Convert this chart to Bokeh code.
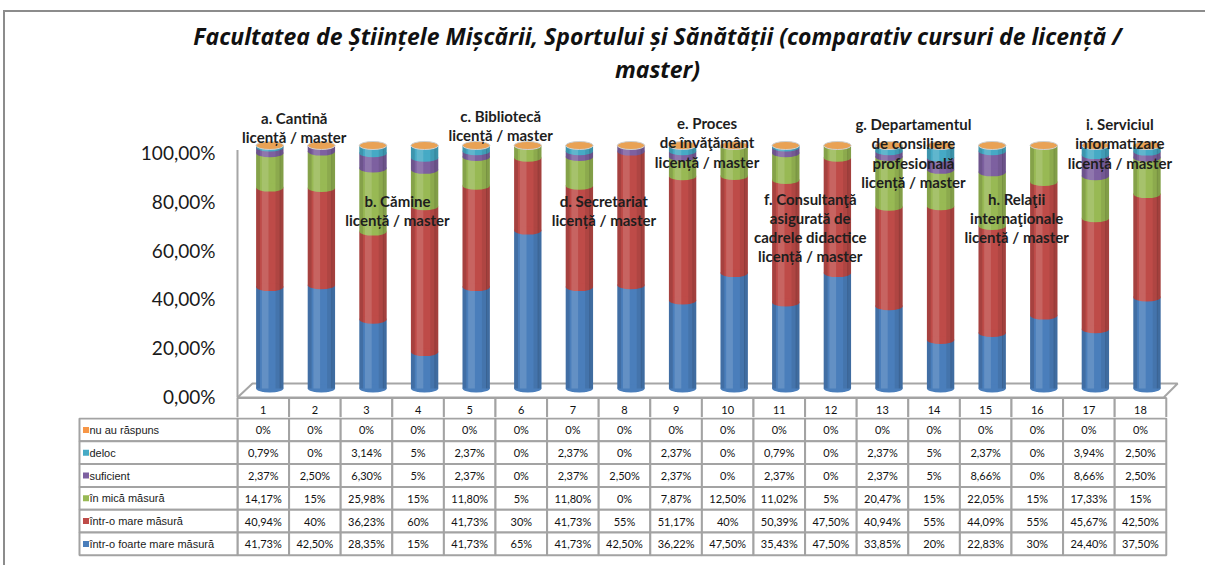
from bokeh.plotting import figure
from bokeh.layouts import column
from bokeh.models import Range1d, ColumnDataSource
from bokeh.core.properties import value
from bokeh.embed import file_html
from bokeh.resources import INLINE

# ---------------- data ----------------
categories = ["1", "2", "3", "4", "5", "6", "7", "8", "9", "10",
              "11", "12", "13", "14", "15", "16", "17", "18"]
series_names = ["într-o foarte mare măsură", "într-o mare măsură", "în mică măsură",
                "suficient", "deloc", "nu au răspuns"]
foarte_mare = [41.73, 42.50, 28.35, 15, 41.73, 65, 41.73, 42.50, 36.22,
               47.50, 35.43, 47.50, 33.85, 20, 22.83, 30, 24.40, 37.50]
mare = [40.94, 40, 36.23, 60, 41.73, 30, 41.73, 55, 51.17,
        40, 50.39, 47.50, 40.94, 55, 44.09, 55, 45.67, 42.50]
mica = [14.17, 15, 25.98, 15, 11.80, 5, 11.80, 0, 7.87,
        12.50, 11.02, 5, 20.47, 15, 22.05, 15, 17.33, 15]
suficient = [2.37, 2.50, 6.30, 5, 2.37, 0, 2.37, 2.50, 2.37,
             0, 2.37, 0, 2.37, 5, 8.66, 0, 8.66, 2.50]
deloc = [0.79, 0, 3.14, 5, 2.37, 0, 2.37, 0, 2.37,
         0, 0.79, 0, 2.37, 5, 2.37, 0, 3.94, 2.50]
nu_au_raspuns = [0, 0, 0, 0, 0, 0, 0, 0, 0, 0, 0, 0, 0, 0, 0, 0, 0, 0]
series_values = [foarte_mare, mare, mica, suficient, deloc, nu_au_raspuns]

tick_values = [0, 20, 40, 60, 80, 100]
tick_labels = ["0,00%", "20,00%", "40,00%", "60,00%", "80,00%", "100,00%"]

group_labels = [
    ["a. Cantină", "licență / master"],
    ["b. Cămine", "licență / master"],
    ["c. Bibliotecă", "licență / master"],
    ["d. Secretariat", "licență / master"],
    ["e. Proces", "de învăţământ", "licență / master"],
    ["f. Consultanţă", "asigurată de", "cadrele didactice", "licență / master"],
    ["g. Departamentul", "de consiliere", "profesională", "licență / master"],
    ["h. Relaţii", "internaţionale", "licență / master"],
    ["i. Serviciul", "informatizare", "licență / master"],
]
title_lines = ["Facultatea de Științele Mișcării, Sportului și Sănătății (comparativ cursuri de licență /",
               "master)"]

# ---------------- styles / layout ----------------
colors = ["#4A7EBB", "#BE4B48", "#98B954", "#7D60A0", "#46AAC5", "#F79646"]
W = 1200
X_RANGE = (-3.996, 19.260)
col_x = list(range(1, len(categories) + 1))
bar_shift = 0.126
bar_w = 0.53
ell_h = 3.3
group_top = [114.3, 80.3, 114.8, 80.3, 111.9, 81.1, 111.5, 81.1, 111.5]
line_step = 7.8
grid_c = "#a3a3a3"


def bare(p):
    p.grid.visible = False
    return p


# ---------------- title figure ----------------
pt = bare(figure(width=W, height=80, x_range=Range1d(5, 1205), y_range=Range1d(92, 12),
                 x_axis_location=None, y_axis_location=None, min_border=0,
                 outline_line_color=None, toolbar_location=None, output_backend="svg"))
pt.text(x=[657, 657], y=[35, 68], text=title_lines, text_font=value("Open Sans"),
        text_font_style="bold italic", text_font_size="23px", text_align="center",
        text_baseline="middle", text_color="#111111")

# ---------------- chart figure ----------------
pa = bare(figure(width=W, height=325, x_range=Range1d(*X_RANGE), y_range=Range1d(-8.607, 124.59),
                 x_axis_location=None, y_axis_location=None, min_border=0,
                 outline_line_color=None, toolbar_location=None, output_backend="svg"))
pa.extra_y_ranges = {"bars": Range1d(-11.93, 121.81)}

# y tick labels (placed through the value scale)
pa.text(x=[0.0736] * len(tick_values), y=tick_values, text=tick_labels,
        text_font=value("Lato"), text_font_size="19px", text_align="right",
        text_baseline="middle", text_color="#1a1a1a")

# floor and wall
pa.patch(x=[0.5, 0.79, 18.72, 18.45], y=[-0.41, 5.33, 5.33, -0.41],
         fill_color="white", line_color="#a6a6a6", line_width=2)
pa.segment(x0=[0.5], y0=[-0.41], x1=[0.5], y1=[101], line_color="#a6a6a6", line_width=2)

# table header row (category numbers)
pa.quad(left=[x - 0.5 for x in col_x], right=[x + 0.5 for x in col_x],
        top=[-0.6] * len(col_x), bottom=[-9.1] * len(col_x),
        fill_color="white", line_color=grid_c, line_width=2)
pa.text(x=col_x, y=[-5.5] * len(col_x), text=categories, text_font=value("Lato"),
        text_font_size="11px", text_align="center", text_baseline="middle", text_color="#111111")

bx = [x + bar_shift for x in col_x]
bottom = [0.0] * len(categories)
for vals, colr in zip(series_values, colors):
    top = [b + v for b, v in zip(bottom, vals)]
    src = ColumnDataSource(dict(x=bx, bottom=bottom, top=top,
                                a=[1.0 if v > 0 else 0.0 for v in vals]))
    pa.vbar(x="x", bottom="bottom", top="top", width=bar_w, source=src,
            fill_color=colr, line_color=None, y_range_name="bars")
    pa.ellipse(x="x", y="bottom", width=bar_w, height=ell_h, source=src,
               fill_color=colr, fill_alpha="a", line_color=None, y_range_name="bars")
    bottom = top
totals = bottom

# cylinder shading
shades = [(-0.2275, 0.075, "black", 0.12), (-0.09, 0.13, "white", 0.14),
          (0.16, 0.1, "black", 0.08), (0.2275, 0.075, "black", 0.14)]
for off, w, c, a in shades:
    pa.vbar(x=[x + off for x in bx], bottom=[0] * len(bx), top=totals, width=w,
            fill_color=c, fill_alpha=a, line_color=None, y_range_name="bars")
# top face
pa.ellipse(x=bx, y=totals, width=bar_w, height=ell_h, fill_color="#E9A255",
           line_color="#d0d0d0", line_width=1, y_range_name="bars")

# group annotations
ann_x, ann_y, ann_t = [], [], []
for g, lines in enumerate(group_labels):
    for j, t in enumerate(lines):
        ann_x.append(2 * g + 1.5 + 0.1)
        ann_y.append(group_top[g] - j * line_step)
        ann_t.append(t)
pa.text(x=ann_x, y=ann_y, text=ann_t, text_font=value("Lato"), text_font_style="bold",
        text_font_size="15px", text_align="center", text_baseline="middle", text_color="#1e1e1e")

# ---------------- table figure ----------------
pb = bare(figure(width=W, height=148, x_range=Range1d(*X_RANGE), y_range=Range1d(6.947, 0.456),
                 x_axis_location=None, y_axis_location=None, min_border=0,
                 outline_line_color=None, toolbar_location=None, output_backend="svg"))

row_series = list(reversed(range(len(series_names))))  # top row = last series


def fmt(v):
    if float(v) == int(v):
        return "%d%%" % int(v)
    return ("%.2f%%" % v).replace(".", ",")


cx, cy, ct = [], [], []
for k, si in enumerate(row_series, start=1):
    for x, v in zip(col_x, series_values[si]):
        cx.append(x)
        cy.append(k)
        ct.append(fmt(v))
pb.quad(left=[x - 0.5 for x in cx], right=[x + 0.5 for x in cx],
        top=[y - 0.5 for y in cy], bottom=[y + 0.5 for y in cy],
        fill_color="white", line_color=grid_c, line_width=2)
rows_k = list(range(1, len(series_names) + 1))
pb.quad(left=[-2.562] * len(rows_k), right=[0.5] * len(rows_k),
        top=[k - 0.5 for k in rows_k], bottom=[k + 0.5 for k in rows_k],
        fill_color="white", line_color=grid_c, line_width=2)
pb.text(x=cx, y=cy, text=ct, text_font=value("Lato"), text_font_size="11px",
        text_align="center", text_baseline="middle", text_color="#111111")
pb.scatter(x=[-2.436] * len(rows_k), y=rows_k, marker="square", size=6,
           fill_color=[colors[si] for si in row_series], line_color=None)
pb.text(x=[-2.37] * len(rows_k), y=rows_k, text=[series_names[si] for si in row_series],
        text_font=value("Liberation Sans"), text_font_size="11px",
        text_align="left", text_baseline="middle", text_color="#1a1a1a")

layout = column(pt, pa, pb, spacing=0,
                styles={"border-top": "2px solid #8c8c8c", "border-left": "2px solid #8c8c8c",
                        "margin-left": "3px", "margin-top": "10px"})

open("out.html", "w").write(file_html(layout, INLINE))
